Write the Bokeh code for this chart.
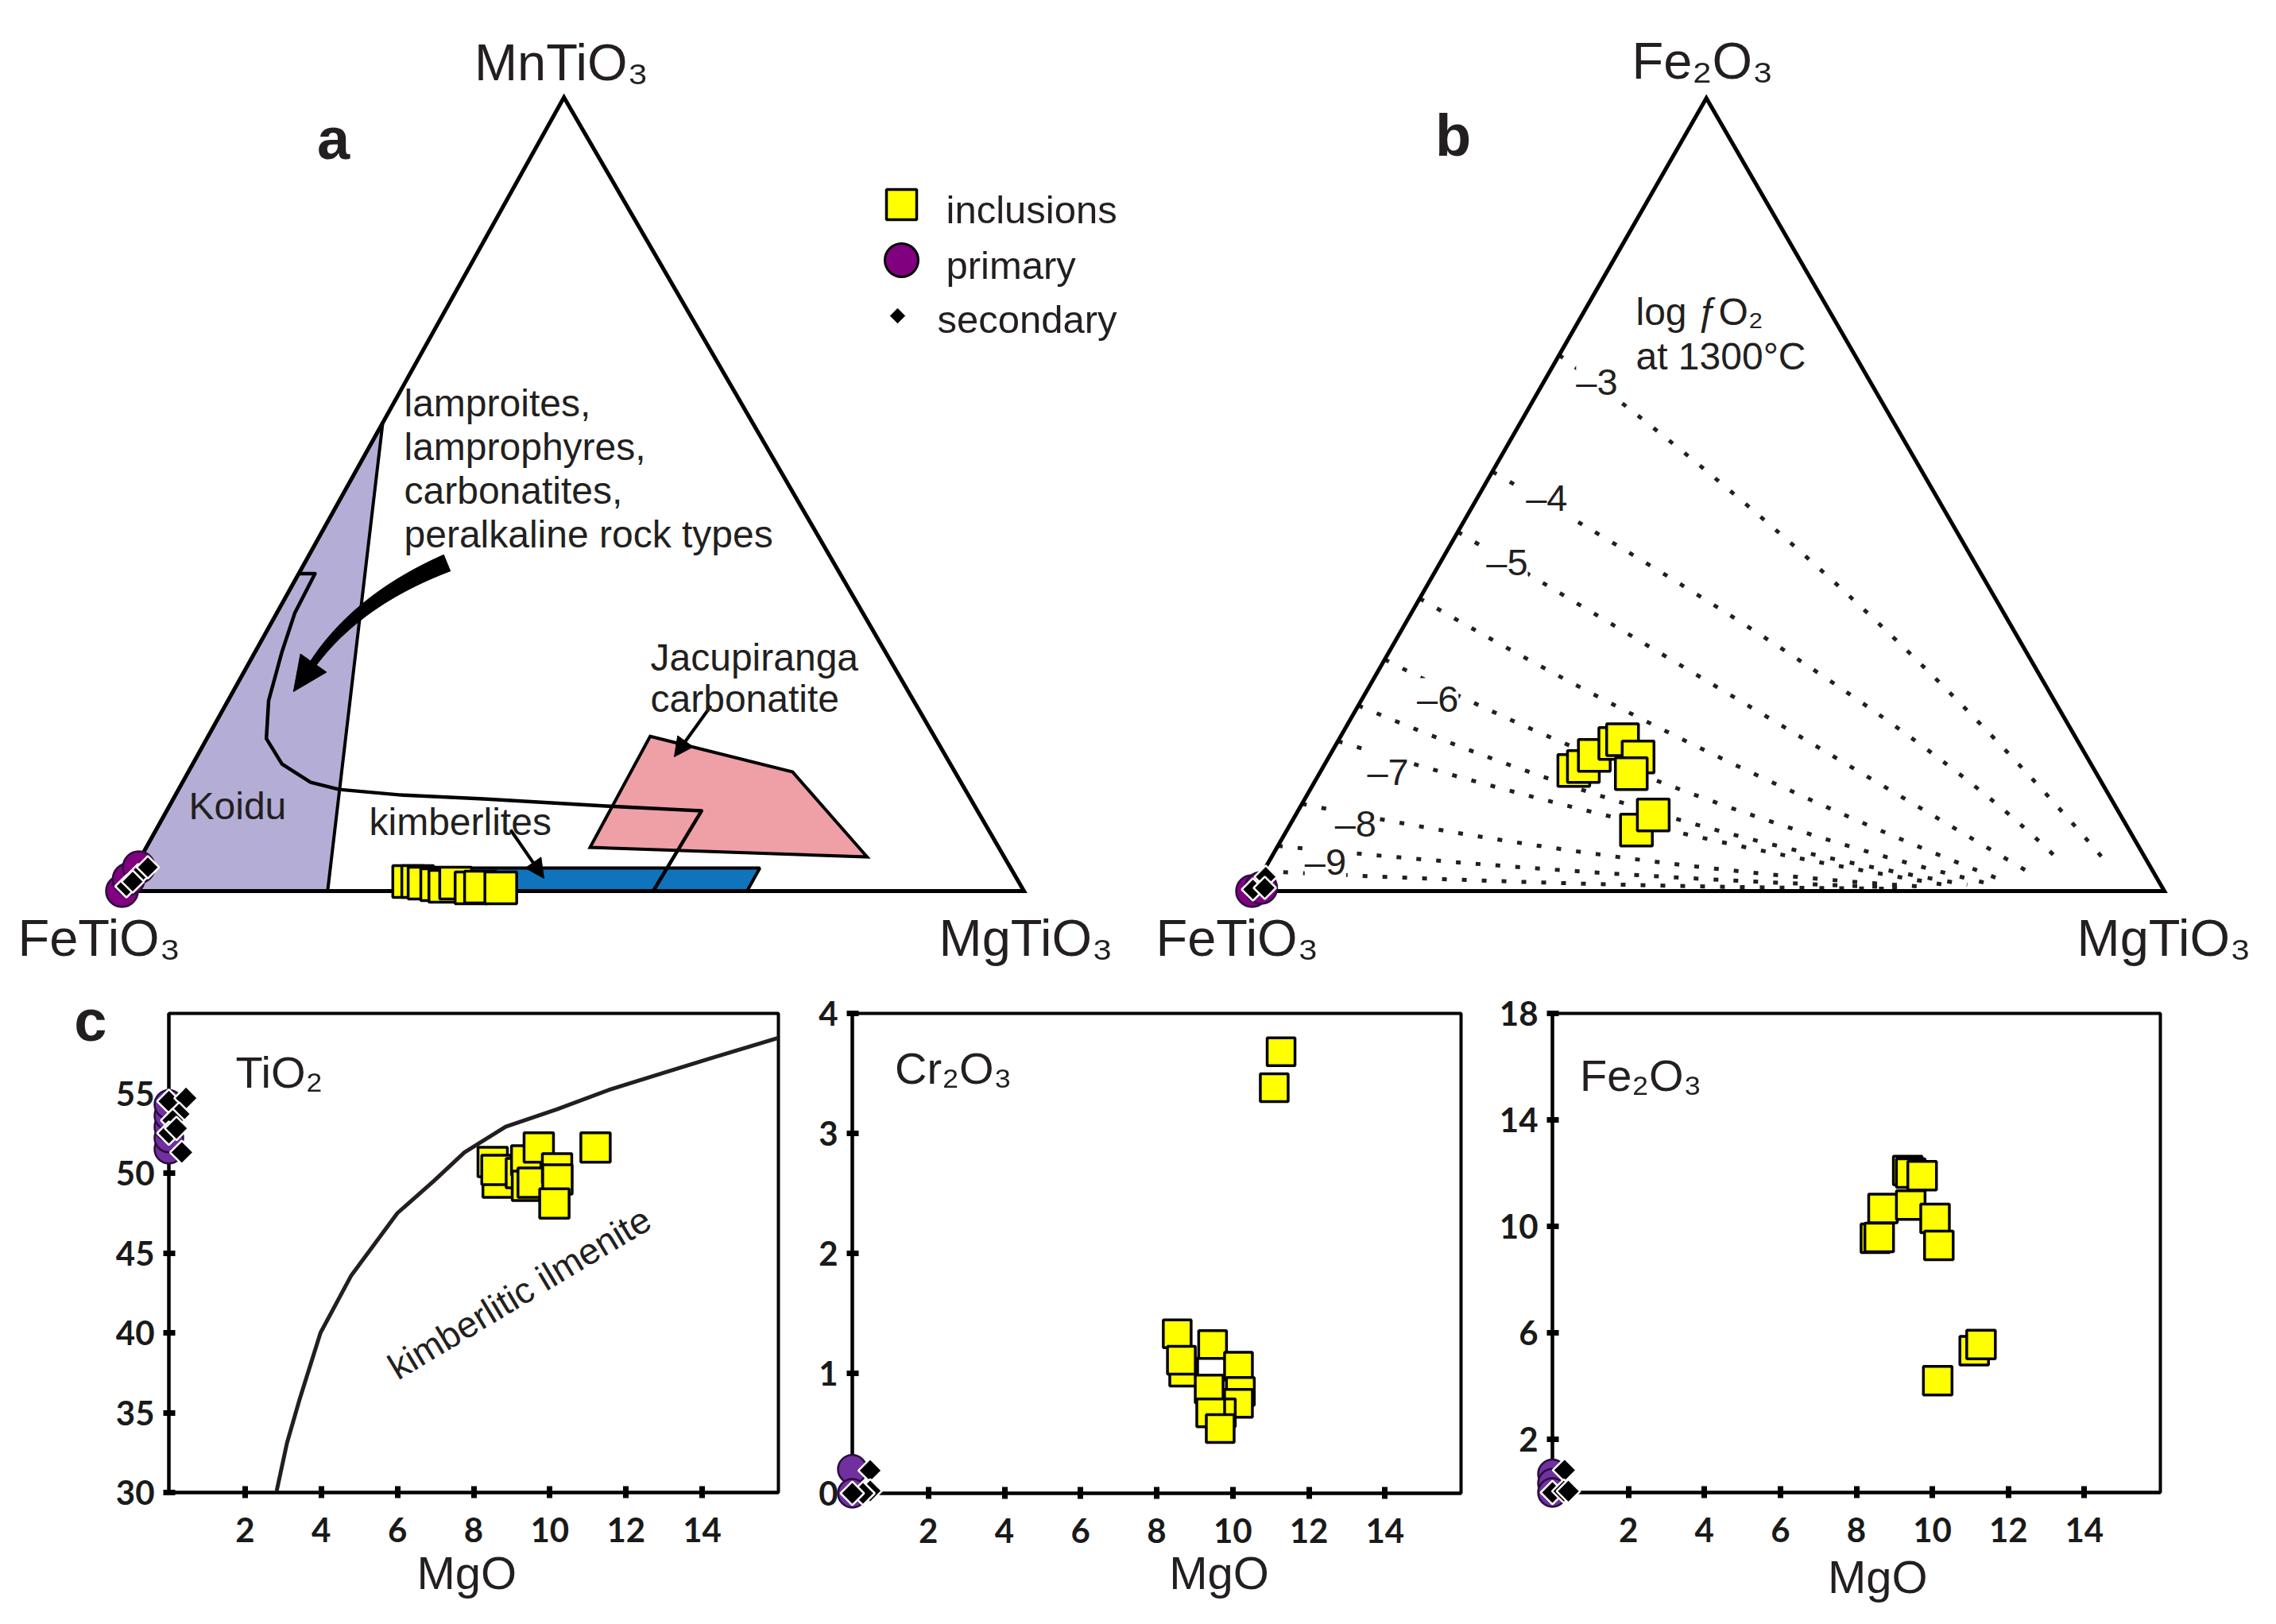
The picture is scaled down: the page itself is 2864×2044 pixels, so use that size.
import numpy as np
from bokeh.plotting import figure
from bokeh.layouts import column, row
from bokeh.models import Range1d, FixedTicker, Label, Arrow, NormalHead
from bokeh.core.properties import value
from bokeh.embed import file_html
from bokeh.resources import INLINE

SANS = "Liberation Sans"
TICKF = "Lato"
INK = "#231f20"
YELLOW = "#ffff00"
PURPLE_T = "#800080"
PURPLE_C = "#7030a0"
KOIDU_C = "#b4aed6"
JAC_C = "#efa0a6"
KIMB_C = "#1074bc"

# ======================= DATA =======================
# (a) ternary FeTiO3 - MgTiO3 - MnTiO3 : fractions of MgTiO3 and MnTiO3
a_incl_mg = [0.312, 0.322, 0.330, 0.345, 0.355, 0.365, 0.385, 0.395, 0.418]
a_incl_mn = [0.012, 0.012, 0.010, 0.008, 0.006, 0.010, 0.004, 0.005, 0.004]
a_prim_mg = [0.000, 0.000, 0.004]
a_prim_mn = [0.000, 0.015, 0.030]
a_sec_mg = [0.002, 0.008, 0.014, 0.006]
a_sec_mn = [0.006, 0.020, 0.030, 0.012]

koidu_mg = [0.0, 0.0, 0.228]
koidu_mn = [0.0, 0.59, 0.0]
jac_mg = [0.490, 0.670, 0.805, 0.492]
jac_mn = [0.195, 0.150, 0.043, 0.055]
kimb_mg = [0.305, 0.693, 0.693, 0.305]
kimb_mn = [0.029, 0.029, 0.0, 0.0]
bound_mg = [0.000, 0.018, 0.020, 0.030, 0.045, 0.066, 0.099, 0.142, 0.178,
            0.250, 0.344, 0.484, 0.593, 0.589]
bound_mn = [0.400, 0.400, 0.350, 0.300, 0.240, 0.192, 0.160, 0.137, 0.128,
            0.121, 0.116, 0.107, 0.101, 0.000]

# (b) ternary FeTiO3 - MgTiO3 - Fe2O3 : fractions of MgTiO3 and Fe2O3
b_incl_mg = [0.277, 0.285, 0.290, 0.305, 0.311, 0.339, 0.342, 0.383, 0.392]
b_incl_fe = [0.152, 0.157, 0.171, 0.186, 0.191, 0.169, 0.148, 0.077, 0.096]
b_prim_mg = [0.000, 0.008]
b_prim_fe = [0.000, 0.004]
b_sec_mg = [0.000, 0.006, 0.012]
b_sec_fe = [0.002, 0.018, 0.004]

# log fO2 isolines at 1300 C (start on FeTiO3-Fe2O3 edge, control, end)
fo2_label = ["–3", "–4", "–5", "", "–6", "", "–7", "–8", "–9", ""]
fo2_start_fe = [0.676, 0.529, 0.453, 0.369, 0.292, 0.234, 0.189, 0.110, 0.057, 0.025]
fo2_ctrl_mg = [0.496, 0.629, 0.420, 0.423, 0.420, 0.411, 0.387, 0.379, 0.361, 0.355]
fo2_ctrl_fe = [0.377, 0.214, 0.237, 0.157, 0.102, 0.072, 0.072, 0.030, 0.017, 0.005]
fo2_end_mg = [0.925, 0.873, 0.845, 0.820, 0.800, 0.780, 0.760, 0.740, 0.720, 0.700]
fo2_end_fe = [0.031, 0.033, 0.021, 0.012, 0.010, 0.008, 0.007, 0.005, 0.004, 0.003]
fo2_lab_mg = [0.058, 0.076, 0.073, None, 0.083, None, 0.074, 0.071, 0.062, None]
fo2_lab_fe = [0.6426, 0.496, 0.4147, None, 0.242, None, 0.1506, 0.0853, 0.0371, None]

# (c) MgO vs oxides (wt%)
mgo_ticks = [2, 4, 6, 8, 10, 12, 14]

c1_incl_mgo = [8.50, 8.63, 8.60, 9.24, 9.38, 9.40, 9.55, 9.71, 10.19, 10.20, 10.12, 11.20]
c1_incl_tio2 = [50.7, 49.4, 50.2, 50.0, 50.8, 49.2, 49.4, 51.6, 50.3, 49.6, 48.1, 51.6]
c1_prim_mgo = [0.0, 0.0, 0.0, 0.0, 0.0]
c1_prim_tio2 = [51.5, 52.2, 52.9, 53.6, 54.3]
c1_sec_mgo = [0.00, 0.45, 0.27, 0.10, 0.00, 0.20, 0.34]
c1_sec_tio2 = [54.5, 54.7, 53.7, 53.3, 52.5, 52.8, 51.3]
kimb_curve_mgo = [2.83, 3.10, 3.44, 3.98, 4.79, 6.00, 6.95, 7.76, 8.84, 10.19,
                  11.54, 12.88, 14.23, 16.05]
kimb_curve_tio2 = [30.1, 33.1, 35.9, 40.0, 43.6, 47.5, 49.5, 51.3, 52.9, 54.0,
                   55.2, 56.2, 57.2, 58.5]

c2_incl_mgo = [11.27, 11.09, 8.54, 8.71, 8.65, 9.47, 10.15, 9.38, 10.20, 10.15, 9.70, 9.42, 9.67]
c2_incl_cr2o3 = [3.68, 3.38, 1.33, 1.01, 1.11, 1.24, 1.06, 0.87, 0.85, 0.75, 0.67, 0.67, 0.54]
c2_prim_mgo = [0.0, 0.0]
c2_prim_cr2o3 = [0.20, 0.00]
c2_sec_mgo = [0.47, 0.47, 0.28, 0.00]
c2_sec_cr2o3 = [0.19, 0.02, 0.00, 0.00]

c3_incl_mgo = [8.50, 8.60, 8.70, 9.35, 9.43, 9.43, 9.73, 10.07, 10.17, 10.14, 11.10, 11.28]
c3_incl_fe2o3 = [9.55, 9.58, 10.67, 12.1, 12.0, 10.8, 11.9, 10.3, 9.28, 4.2, 5.33, 5.56]
c3_prim_mgo = [0.0, 0.0, 0.0]
c3_prim_fe2o3 = [0.70, 0.35, 0.00]
c3_sec_mgo = [0.32, 0.00, 0.30, 0.42]
c3_sec_fe2o3 = [0.84, 0.00, 0.05, 0.05]

# ======================= HELPERS =======================
KA, KB = 0.490, 0.498
A_X0, A_SX, A_Y0, A_SY = 161.0, 1135.0, 1129.0, 999.0
B_X0, B_SX, B_Y0, B_SY = 1583.0, 1148.0, 1129.0, 998.0
TOP_H = 1232


def proj_a(mg, mn):
    mg = np.asarray(mg, float); mn = np.asarray(mn, float)
    return mg + KA * mn, mn


def proj_b(mg, fe):
    mg = np.asarray(mg, float); fe = np.asarray(fe, float)
    return mg + KB * fe, fe


def pa(px, py):
    return (np.asarray(px, float) - A_X0) / A_SX, (A_Y0 - np.asarray(py, float)) / A_SY


def pb(px, py):
    return (np.asarray(px, float) - B_X0) / B_SX, (B_Y0 - np.asarray(py, float)) / B_SY


def ident(x, y):
    return x, y


def put(p, conv, px, py, text, size, align="left", baseline="alphabetic",
        style="normal", font=SANS, color=INK, angle=0, bg=None):
    x, y = conv(px, py)
    kw = {}
    if bg is not None:
        kw = dict(background_fill_color=bg, background_fill_alpha=1.0)
    p.add_layout(Label(x=float(x), y=float(y), text=text, text_font=font,
                       text_font_size=f"{size}px", text_font_style=style,
                       text_color=color, text_align=align, text_baseline=baseline,
                       angle=angle, angle_units="deg", **kw))


def put_out(p, x, y, text, size, align="center", baseline="alphabetic", style="normal"):
    # text glyph outside the plot frame (annotation level, not clipped)
    p.text(x=[x], y=[y], text=[text], text_font=value(SANS), text_font_size=value(f"{size}px"),
           text_font_style=style, text_color=INK, text_align=align,
           text_baseline=baseline, level="annotation")


def tern_fig(width, x0, sx, y0, sy, page_left):
    xr = Range1d((page_left - x0) / sx, (page_left + width - x0) / sx)
    yr = Range1d((y0 - (8 + TOP_H)) / sy, (y0 - 8) / sy)
    p = figure(width=width, height=TOP_H, x_range=xr, y_range=yr,
               x_axis_type=None, y_axis_type=None, output_backend="svg",
               toolbar_location=None, min_border=0)
    p.outline_line_color = None
    p.background_fill_color = "white"
    p.border_fill_color = "white"
    return p


def markers_yellow(p, x, y, size):
    p.scatter(x, y, marker="square", size=size, fill_color=YELLOW,
              line_color="black", line_width=3.5)


def markers_prim_sec(p, xp, yp, xs, ys, csize, dsize, ccol, level="glyph"):
    p.scatter(xp, yp, marker="circle", size=csize, fill_color=ccol,
              line_color="#2a0d3a", line_width=2.5, level=level)
    p.scatter(xs, ys, marker="square", angle=np.pi / 4, size=dsize, fill_color="black",
              line_color="white", line_width=2.5, level=level)


# ======================= (a) =======================
fa = tern_fig(1432, A_X0, A_SX, A_Y0, A_SY, 8)

fa.patch(*proj_a(koidu_mg, koidu_mn), fill_color=KOIDU_C, line_color="black", line_width=4)
fa.patch(*proj_a(kimb_mg, kimb_mn), fill_color=KIMB_C, line_color="black", line_width=4)
fa.patch(*proj_a(jac_mg, jac_mn), fill_color=JAC_C, line_color="black", line_width=4,
         line_join="miter")
fa.line(*proj_a(bound_mg, bound_mn), line_color="black", line_width=4.5, line_join="round")
tx, ty = proj_a([0, 1, 0, 0], [0, 0, 1, 0])
fa.line(tx, ty, line_color="black", line_width=5, line_join="miter")

# curved tapered arrow (page-pixel geometry converted to plot units)
P0 = np.array([570.0, 716.0]); P1 = np.array([458.0, 762.0]); P2 = np.array([402.0, 842.0])
t = np.linspace(0, 1, 30)[:, None]
B = (1 - t) ** 2 * P0 + 2 * (1 - t) * t * P1 + t ** 2 * P2
dB = 2 * (1 - t) * (P1 - P0) + 2 * t * (P2 - P1)
nrm = np.column_stack([-dB[:, 1], dB[:, 0]]) / np.linalg.norm(dB, axis=1)[:, None]
w = (11.0 * (1 - t) + 4.5 * t)
left = B + nrm * w
right = B - nrm * w
d_end = (P2 - P1) / np.linalg.norm(P2 - P1)
n_end = np.array([-d_end[1], d_end[0]])
tip = P2 + 44 * d_end
head = np.array([P2 + n_end * 20, tip, P2 - n_end * 20])
poly = np.vstack([left, head, right[::-1]])
ax_, ay_ = pa(poly[:, 0], poly[:, 1])
fa.patch(ax_, ay_, fill_color="black", line_color="black", line_width=1)

# small arrows
for (sx_, sy_, ex_, ey_) in [(650, 1052, 692, 1113), (902, 896, 856, 960)]:
    x0_, y0_ = pa(sx_, sy_); x1_, y1_ = pa(ex_, ey_)
    fa.add_layout(Arrow(x_start=float(x0_), y_start=float(y0_), x_end=float(x1_), y_end=float(y1_),
                        line_width=4, line_color="black",
                        end=NormalHead(size=24, fill_color="black", line_color="black")))

markers_yellow(fa, *proj_a(a_incl_mg, a_incl_mn), 40)
markers_prim_sec(fa, *proj_a(a_prim_mg, a_prim_mn), *proj_a(a_sec_mg, a_sec_mn), 40, 20, PURPLE_T)

# legend
lx, ly = pa([1142], [265]); markers_yellow(fa, lx, ly, 38)
lx, ly = pa([1142], [335])
fa.scatter(lx, ly, marker="circle", size=42, fill_color=PURPLE_T, line_color="black", line_width=3)
lx, ly = pa([1137], [405])
fa.scatter(lx, ly, marker="square", angle=np.pi / 4, size=13, fill_color="black", line_color="black")
put(fa, pa, 1198, 271, "inclusions", 49)
put(fa, pa, 1198, 341, "primary", 49)
put(fa, pa, 1187, 409, "secondary", 49)

put(fa, pa, 714, 86, "MnTiO₃", 65, align="center")
put(fa, pa, 30, 1188, "FeTiO₃", 65)
put(fa, pa, 1189, 1188, "MgTiO₃", 65)
put(fa, pa, 427, 182, "a", 74, align="center", style="bold")
for i, s in enumerate(["lamproites,", "lamprophyres,", "carbonatites,", "peralkaline rock types"]):
    put(fa, pa, 516, 515 + 55 * i, s, 48)
put(fa, pa, 245, 1022, "Koidu", 48)
put(fa, pa, 472, 1042, "kimberlites", 48)
put(fa, pa, 826, 835, "Jacupiranga", 48)
put(fa, pa, 826, 887, "carbonatite", 48)

# ======================= (b) =======================
fb = tern_fig(1416, B_X0, B_SX, B_Y0, B_SY, 1440)
sx0, sy0 = proj_b(np.zeros(len(fo2_start_fe)), fo2_start_fe)
cx0, cy0 = proj_b(fo2_ctrl_mg, fo2_ctrl_fe)
ex0, ey0 = proj_b(fo2_end_mg, fo2_end_fe)
fb.quadratic(x0=sx0, y0=sy0, x1=ex0, y1=ey0, cx=cx0, cy=cy0, line_color=INK,
             line_width=5, line_dash="6 19")
tx, ty = proj_b([0, 1, 0, 0], [0, 0, 1, 0])
fb.line(tx, ty, line_color="black", line_width=5, line_join="miter")
markers_yellow(fb, *proj_b(b_incl_mg, b_incl_fe), 40)
markers_prim_sec(fb, *proj_b(b_prim_mg, b_prim_fe), *proj_b(b_sec_mg, b_sec_fe), 40, 20, PURPLE_T)

for lab, m, f in zip(fo2_label, fo2_lab_mg, fo2_lab_fe):
    if lab:
        x_, y_ = proj_b(m, f)
        fb.add_layout(Label(x=float(x_), y=float(y_), text=lab, text_font=SANS,
                            text_font_size="47px", text_color=INK, text_align="center",
                            text_baseline="middle", background_fill_color="white",
                            background_fill_alpha=1.0))

put(fb, pb, 2150, 84, "Fe₂O₃", 65, align="center")
put(fb, pb, 1462, 1188, "FeTiO₃", 65)
put(fb, pb, 2621, 1188, "MgTiO₃", 65)
put(fb, pb, 1836, 178, "b", 74, align="center", style="bold")
put(fb, pb, 2066, 400, "log ƒO₂", 48)
put(fb, pb, 2066, 456, "at 1300°C", 48)


# ======================= (c) =======================
def panel(yr, yticks, left, right, top, bottom, fw, fh):
    p = figure(frame_width=fw, frame_height=fh, x_range=Range1d(0, 16), y_range=Range1d(*yr),
               min_border_left=left, min_border_right=right, min_border_top=top,
               min_border_bottom=bottom, output_backend="svg", toolbar_location=None)
    p.grid.visible = False
    p.outline_line_color = "black"
    p.outline_line_width = 4
    p.outline_line_alpha = 1.0
    p.xaxis.ticker = FixedTicker(ticks=mgo_ticks)
    p.yaxis.ticker = FixedTicker(ticks=yticks)
    for ax in [p.xaxis[0], p.yaxis[0]]:
        ax.axis_line_width = 4
        ax.axis_line_color = "black"
        ax.major_tick_line_width = 7
        ax.major_tick_line_color = "black"
        ax.major_tick_in = 8
        ax.major_tick_out = 7
        ax.minor_tick_line_color = None
        ax.major_label_text_font = TICKF
        ax.major_label_text_font_style = "bold"
        ax.major_label_text_font_size = "42px"
        ax.major_label_text_color = "#1a1a1a"
    p.xaxis[0].major_label_standoff = 24
    p.yaxis[0].major_label_standoff = 11
    return p


c1 = panel((30, 60), [30, 35, 40, 45, 50, 55], 212, 33, 43, 150, 767, 603)
c1.line(kimb_curve_mgo, kimb_curve_tio2, line_color=INK, line_width=5)
markers_yellow(c1, c1_incl_mgo, c1_incl_tio2, 37)
markers_prim_sec(c1, c1_prim_mgo, c1_prim_tio2, c1_sec_mgo, c1_sec_tio2, 36, 21, PURPLE_C, level="annotation")
put(c1, ident, 1.75, 56.3, "TiO₂", 56)
put(c1, ident, 9.20, 42.5, "kimberlitic ilmenite", 46, align="center", baseline="middle", angle=31)
put_out(c1, 7.82, 25.0, "MgO", 58)
put_out(c1, -2.06, 59.55, "c", 74, baseline="middle", style="bold")

c2 = panel((0, 4), [0, 1, 2, 3, 4], 60, 34, 41, 151, 766, 604)
markers_yellow(c2, c2_incl_mgo, c2_incl_cr2o3, 35)
markers_prim_sec(c2, c2_prim_mgo, c2_prim_cr2o3, c2_sec_mgo, c2_sec_cr2o3, 36, 21, PURPLE_C, level="annotation")
put(c2, ident, 1.12, 3.54, "Cr₂O₃", 56)
put_out(c2, 9.64, -0.66, "MgO", 58)

c3 = panel((0, 18), [2, 6, 10, 14, 18], 81, 130, 38, 155, 765, 603)
markers_yellow(c3, c3_incl_mgo, c3_incl_fe2o3, 36)
markers_prim_sec(c3, c3_prim_mgo, c3_prim_fe2o3, c3_sec_mgo, c3_sec_fe2o3, 36, 21, PURPLE_C, level="annotation")
put(c3, ident, 0.72, 15.67, "Fe₂O₃", 56)
put_out(c3, 8.56, -3.16, "MgO", 58)

layout = column(row(fa, fb), row(c1, c2, c3))
open("out.html", "w").write(file_html(layout, INLINE, "ilmenite compositions"))
